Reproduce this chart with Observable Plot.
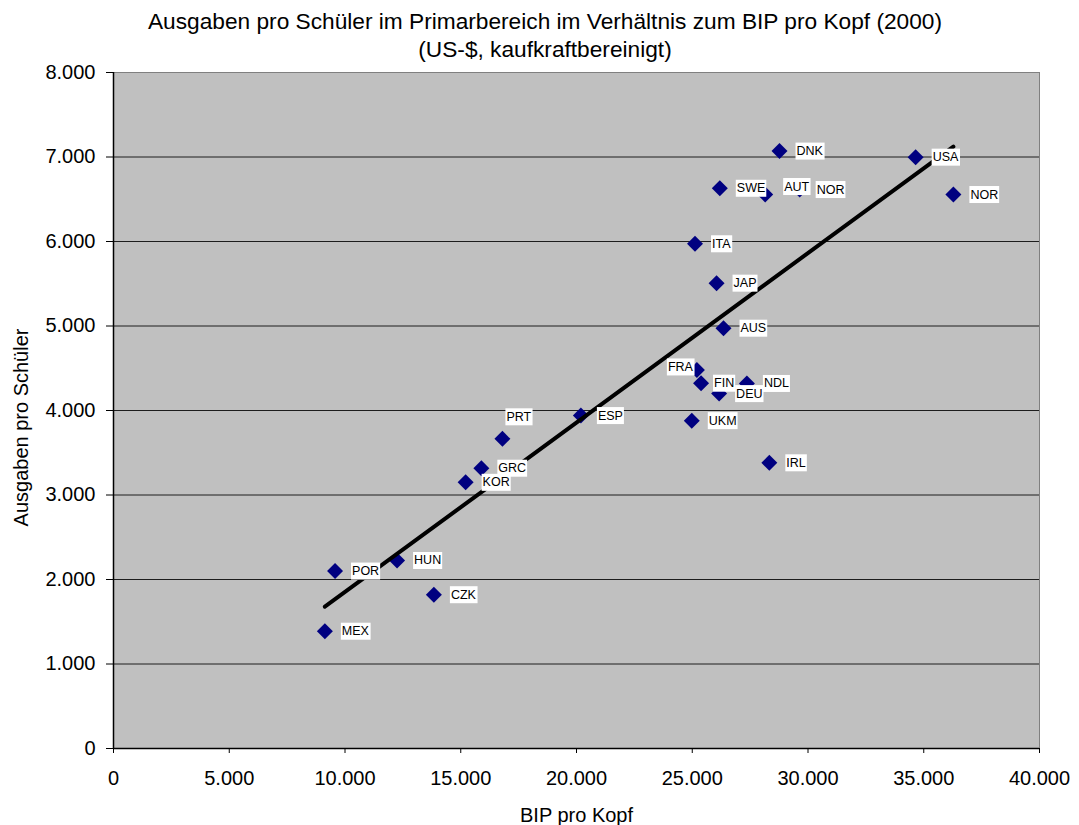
<!DOCTYPE html>
<html>
<head>
<meta charset="utf-8">
<script src="https://cdn.jsdelivr.net/npm/d3@7"></script>
<script src="https://cdn.jsdelivr.net/npm/@observablehq/plot@0.6"></script>
<style>
  body { margin: 0; background: #fff; font-family: "Liberation Sans", Arial, sans-serif; overflow: hidden; }
  #title {
    width: 1079px; height: 50px; box-sizing: border-box; overflow: visible;
    padding-top: 7px; padding-left: 11px;
    text-align: center; font-size: 22.7px; line-height: 28px; color: #000;
  }
  #chart svg { display: block; }
</style>
</head>
<body>
<div id="title">Ausgaben pro Schüler im Primarbereich im Verhältnis zum BIP pro Kopf (2000)<br>(US-$, kaufkraftbereinigt)</div>
<div id="chart"></div>
<script>
// OECD countries, 2000 — GDP per capita and primary spending per pupil (US-$, PPP)
const countries = ["MEX", "POR", "HUN", "CZK", "KOR", "GRC", "PRT", "ESP", "UKM", "ITA", "FRA", "FIN",
                   "JAP", "DEU", "SWE", "AUS", "NDL", "AUT", "IRL", "DNK", "NOR", "USA", "NOR"];
const gdpPerCapita = [9130, 9570, 12250, 13840, 15210, 15890, 16800, 20190, 24980, 25120, 25200, 25380,
                      26050, 26160, 26190, 26350, 27360, 28150, 28330, 28770, 29640, 34650, 36280];
const spendingPerPupil = [1388, 2100, 2225, 1820, 3150, 3317, 3665, 3940, 3880, 5973, 4480, 4323,
                          5507, 4200, 6630, 4974, 4320, 6556, 3381, 7070, 6615, 6998, 6556];

const xTicks = [0, 5000, 10000, 15000, 20000, 25000, 30000, 35000, 40000];
const yTicks = [0, 1000, 2000, 3000, 4000, 5000, 6000, 7000, 8000];

const points = countries.map((c, i) => ({country: c, gdp: gdpPerCapita[i], spend: spendingPerPupil[i]}));

// German number format: 1.000 instead of 1,000
const fmt = d => d3.format(",")(d).replace(/,/g, ".");

// Label placement: to the right of the marker by default, a few moved to avoid overlap
const labelNudge = {
  AUT: {dx: 19, dy: -8, anchor: "start"},
  FRA: {dx: -4, dy: -3, anchor: "end"},
  PRT: {dx: 4, dy: -22, anchor: "start"},
  FIN: {dx: 13, dy: 0, anchor: "start"}
};
const labelFont = {fontSize: 12.5, fill: "#000", lineAnchor: "middle", ariaDescription: "country labels"};

const labelMarks = [
  Plot.text(points.filter(d => !labelNudge[d.country]), {
    x: "gdp", y: "spend", text: "country", dx: 17, textAnchor: "start", ...labelFont
  }),
  ...Object.entries(labelNudge).map(([c, n]) =>
    Plot.text(points.filter(d => d.country === c), {
      x: "gdp", y: "spend", text: "country", dx: n.dx, dy: n.dy, textAnchor: n.anchor, ...labelFont
    }))
];

const svg = Plot.plot({
  width: 1079,
  height: 775,
  marginTop: 22,
  marginRight: 40,
  marginBottom: 77,
  marginLeft: 113,
  style: {fontFamily: "'Liberation Sans', Arial, sans-serif", fontSize: "20px", color: "#000", background: "transparent"},
  x: {domain: [0, 40000]},
  y: {domain: [0, 8000]},
  marks: [
    Plot.frame({fill: "#c0c0c0", stroke: "#808080"}),
    Plot.gridY(yTicks.filter(v => v > 0 && v < 8000), {stroke: "#000", strokeOpacity: 0.85}),
    Plot.ruleX([0], {stroke: "#000", strokeWidth: 1.5}),
    Plot.ruleY([0], {stroke: "#000", strokeWidth: 1.5}),
    Plot.axisX({ticks: xTicks, tickFormat: fmt, tickSize: 5, tickPadding: 17, fontSize: 20, label: null}),
    Plot.axisY({ticks: yTicks, tickFormat: fmt, tickSize: 7, tickPadding: 11, fontSize: 20, label: null}),
    Plot.dot(points, {x: "gdp", y: "spend", symbol: "diamond2", r: 7.2, fill: "#000080", stroke: "none"}),
    Plot.linearRegressionY(points, {x: "gdp", y: "spend", stroke: "#000", strokeWidth: 4, ci: 0}),
    ...labelMarks,
    Plot.text(["BIP pro Kopf"], {text: d => d, frameAnchor: "bottom", textAnchor: "middle", dy: 67, lineAnchor: "middle", fontSize: 20, fill: "#000"}),
    Plot.text(["Ausgaben pro Schüler"], {text: d => d, frameAnchor: "left", textAnchor: "middle", rotate: -90, dx: -92, dy: 17, lineAnchor: "middle", fontSize: 20, fill: "#000"})
  ]
});

document.getElementById("chart").append(svg);

// White boxes behind the country labels
svg.querySelectorAll('g[aria-description="country labels"] text').forEach(t => {
  const b = t.getBBox();
  const r = document.createElementNS("http://www.w3.org/2000/svg", "rect");
  r.setAttribute("x", b.x - 1);
  r.setAttribute("y", b.y + b.height / 2 - 8.5);
  r.setAttribute("width", b.width + 2);
  r.setAttribute("height", 17);
  r.setAttribute("fill", "#fff");
  const tr = t.getAttribute("transform");
  if (tr) r.setAttribute("transform", tr);
  t.parentNode.insertBefore(r, t);
});
</script>
</body>
</html>
